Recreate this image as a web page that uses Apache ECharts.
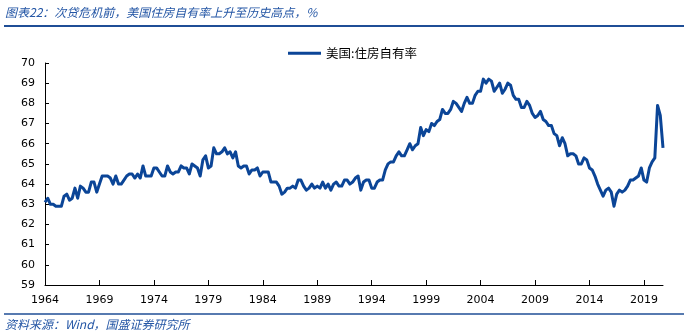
<!DOCTYPE html>
<html>
<head>
<meta charset="utf-8">
<script src="https://cdn.jsdelivr.net/npm/echarts@6/dist/echarts.min.js"></script>
<style>
  html, body { margin: 0; padding: 0; background: #fff; }
  #chart { width: 688px; height: 335px; }
</style>
</head>
<body>
<div id="chart"></div>
<script>
// US homeownership rate, quarterly, 1964Q1 - 2020Q4 (%)
const startYear = 1964;
const seriesName = '美国:住房自有率';
const ownershipRate = [
  63.1, 63.3, 63.0, 63.0,  62.9, 62.9, 62.9, 63.4,  63.5, 63.2, 63.3, 63.8,  63.3, 63.9, 63.8, 63.6,
  63.6, 64.1, 64.1, 63.6,  64.0, 64.4, 64.4, 64.4,  64.3, 64.0, 64.4, 64.0,  64.0, 64.2, 64.4, 64.5,
  64.5, 64.3, 64.5, 64.3,  64.9, 64.4, 64.4, 64.4,  64.8, 64.8, 64.6, 64.4,  64.4, 64.9, 64.6, 64.5,
  64.6, 64.6, 64.9, 64.8,  64.8, 64.5, 65.0, 64.9,  64.8, 64.4, 65.2, 65.4,  64.8, 64.9, 65.8, 65.5,
  65.5, 65.6, 65.8, 65.5,  65.6, 65.3, 65.6, 64.9,  64.8, 64.9, 64.9, 64.5,  64.7, 64.7, 64.8, 64.4,
  64.6, 64.6, 64.6, 64.1,  64.1, 64.1, 63.9, 63.5,  63.6, 63.8, 63.8, 63.9,  63.8, 64.2, 64.2, 63.9,
  63.7, 63.8, 64.0, 63.8,  63.9, 63.8, 64.1, 63.8,  64.0, 63.7, 64.0, 64.1,  63.9, 63.9, 64.2, 64.2,
  64.0, 64.1, 64.3, 64.4,  63.7, 64.1, 64.2, 64.2,  63.8, 63.8, 64.1, 64.2,  64.2, 64.7, 65.0, 65.1,
  65.1, 65.4, 65.6, 65.4,  65.4, 65.7, 66.0, 65.7,  65.9, 66.0, 66.8, 66.4,  66.7, 66.6, 67.0, 66.9,
  67.1, 67.2, 67.7, 67.5,  67.5, 67.7, 68.1, 68.0,  67.8, 67.6, 68.0, 68.3,  68.0, 68.0, 68.4, 68.6,
  68.6, 69.2, 69.0, 69.2,  69.1, 68.6, 68.8, 69.0,  68.5, 68.7, 69.0, 68.9,  68.4, 68.2, 68.2, 67.8,
  67.8, 68.1, 67.9, 67.5,  67.3, 67.4, 67.6, 67.2,  67.1, 66.9, 66.9, 66.5,  66.4, 65.9, 66.3, 66.0,
  65.4, 65.5, 65.5, 65.4,  65.0, 65.0, 65.3, 65.2,  64.8, 64.7, 64.4, 64.0,  63.7, 63.4, 63.7, 63.8,
  63.6, 62.9, 63.5, 63.7,  63.6, 63.7, 63.9, 64.2,  64.2, 64.3, 64.4, 64.8,  64.2, 64.1, 64.8, 65.1,
  65.3, 67.9, 67.4, 65.8
];
const yTicks = { min: 59, max: 70, step: 1 };
const labelEvery = 20; // one label every five years

// quarter categories, e.g. "1964Q1"
const quarters = ownershipRate.map((_, i) =>
  (startYear + Math.floor(i / 4)) + 'Q' + (i % 4 + 1));

const titleText = '图表22：次贷危机前，美国住房自有率上升至历史高点，%';
const sourceText = '资料来源：Wind，国盛证券研究所';

const blueText = '#2456a5';
const ruleBlue = '#1f4e96';
const lineBlue = '#0b4597';
const cjk = '"Noto Sans CJK SC", sans-serif';
const num = '"DejaVu Sans", sans-serif';

const chart = echarts.init(document.getElementById('chart'), null, { renderer: 'canvas' });
chart.setOption({
  animation: false,
  backgroundColor: '#ffffff',
  grid: { left: 45, right: 25, top: 63, bottom: 50, containLabel: false },
  legend: {
    data: [seriesName],
    left: 283,
    top: 42,
    icon: 'rect',
    itemWidth: 33,
    itemHeight: 3,
    itemGap: 4,
    textStyle: { fontFamily: cjk, fontSize: 12.5, color: '#000' }
  },
  xAxis: {
    type: 'category',
    data: quarters,
    boundaryGap: false,
    axisLine: { lineStyle: { color: '#000', width: 1 } },
    axisTick: {
      inside: true, length: 5,
      interval: (i) => i % labelEvery === 0,
      lineStyle: { color: '#000' }
    },
    axisLabel: {
      interval: (i) => i % labelEvery === 0,
      formatter: (v) => v.slice(0, 4),
      color: '#000', fontFamily: num, fontSize: 11, margin: 10
    },
    splitLine: { show: false }
  },
  yAxis: {
    type: 'value',
    min: yTicks.min, max: yTicks.max, interval: yTicks.step,
    axisLine: { show: true, lineStyle: { color: '#000', width: 1 } },
    axisTick: { show: true, inside: true, length: 4, lineStyle: { color: '#000' } },
    axisLabel: { color: '#000', fontFamily: num, fontSize: 11, margin: 10 },
    splitLine: { show: false }
  },
  series: [{
    name: seriesName,
    type: 'line',
    data: ownershipRate,
    showSymbol: false,
    symbol: 'none',
    lineStyle: { color: lineBlue, width: 3, join: 'round' },
    itemStyle: { color: lineBlue }
  }],
  graphic: [
    {
      type: 'text', left: 5, top: 6,
      style: { text: titleText, font: 'italic 12px ' + cjk, fill: blueText }
    },
    {
      type: 'line', shape: { x1: 4, y1: 26, x2: 684, y2: 26 },
      style: { stroke: ruleBlue, lineWidth: 2 }
    },
    {
      type: 'line', shape: { x1: 4, y1: 314, x2: 684, y2: 314 },
      style: { stroke: ruleBlue, lineWidth: 1.5 }
    },
    {
      type: 'text', left: 5, top: 318,
      style: { text: sourceText, font: 'italic 12px ' + cjk, fill: blueText }
    }
  ]
});
</script>
</body>
</html>
